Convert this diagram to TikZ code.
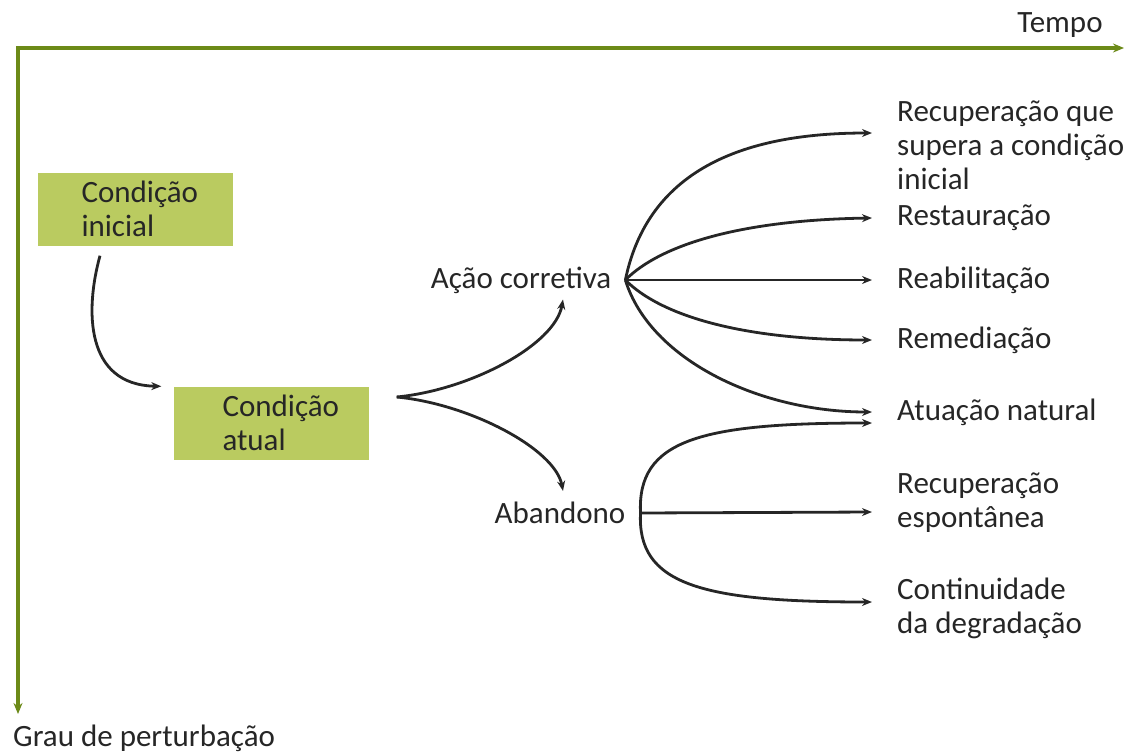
\documentclass[tikz,border=0pt]{standalone}
\usepackage{fontspec}
\setmainfont{Carlito}
\usepackage{tikz}
\usetikzlibrary{arrows.meta,positioning}
\definecolor{axisgreen}{RGB}{108,138,24}
\definecolor{boxgreen}{RGB}{186,203,96}
\definecolor{inkgray}{RGB}{38,38,38}

\tikzset{
  axis/.style={draw=axisgreen, line width=4.5pt, {Stealth[length=11pt,width=9pt]}-{Stealth[length=11pt,width=9pt]}},
  flow/.style={draw=inkgray, line width=2.8pt, -{Stealth[length=10pt,width=8pt]}},
  txt/.style={text=inkgray, inner sep=0pt, font=\fontsize{31}{34}\selectfont},
  lbl/.style={txt, anchor=west, align=left},
  condbox/.style={txt, fill=boxgreen, minimum width=195pt, minimum height=73pt, align=left},
}

\begin{document}
\begin{tikzpicture}[x=1pt, y=-1pt]
	\useasboundingbox (0,0) rectangle (1136,755);
	
	\coordinate (orig) at (18,48);
	\coordinate (tend) at (1124,48);
	\coordinate (gend) at (18,714);
	\draw[axis] (tend) -- (orig) -- (gend);
	\node[txt] (tempo) at (1060,25) {Tempo};
	\node[lbl] (grau) at (13,738) {Grau de perturbação};
	
	\node[condbox, text width=107pt] (ini) at (135,209) {Condição\\inicial};
	\node[condbox, text width=97pt] (atual) at (271,423) {Condição\\atual};
	
	\node[txt] (acao) at (521,280) {Ação corretiva};
	\node[txt] (aband) at (560,513) {Abandono};
	
	\node[lbl] (rec) at (897,145) {Recuperação que\\supera a condição\\inicial};
	\node[lbl] (rest) at (897,218) {Restauração};
	\node[lbl] (reab) at (897,280) {Reabilitação};
	\node[lbl] (rem) at (897,340) {Remediação};
	\node[lbl] (atua) at (897,412) {Atuação natural};
	\node[lbl] (recesp) at (897,503) {Recuperação\\espontânea};
	\node[lbl] (cont) at (897,608) {Continuidade\\da degradação};
	
	\draw[flow] ([xshift=-35pt,yshift=-10pt]ini.south) .. controls (85,310) and (85,385) .. ([xshift=-12pt]atual.north west);
	
	\coordinate (fork) at ([xshift=28pt,yshift=26pt]atual.east);
	\draw[flow] (fork) .. controls (470,390) and (555,345) .. ([xshift=42pt,yshift=-6pt]acao.south);
	\draw[flow] (fork) .. controls (470,404) and (555,449) .. ([xshift=3pt,yshift=11pt]aband.north);
	
	\coordinate (acaofan) at ([xshift=14pt]acao.east);
	\draw[flow] (acaofan) .. controls (650,160) and (760,133) .. ([xshift=-25pt,yshift=12pt]rec.west);
	\draw[flow] (acaofan) .. controls (660,245) and (740,220) .. ([xshift=-25pt]rest.west);
	\draw[flow] (acaofan) -- ([xshift=-25pt]reab.west);
	\draw[flow] (acaofan) .. controls (660,315) and (740,340) .. ([xshift=-25pt]rem.west);
	\draw[flow] (acaofan) .. controls (650,360) and (760,412) .. ([xshift=-25pt]atua.west);
	
	\coordinate (abandfan) at ([xshift=15pt]aband.east);
	\draw[flow] (abandfan) .. controls (637,440) and (700,423) .. ([xshift=-25pt,yshift=-11pt]atua.west);
	\draw[flow] (abandfan) -- ([xshift=-25pt,yshift=-9pt]recesp.west);
	\draw[flow] (abandfan) .. controls (637,584) and (700,602) .. ([xshift=-25pt,yshift=6pt]cont.west);
	
\end{tikzpicture}
\end{document}
